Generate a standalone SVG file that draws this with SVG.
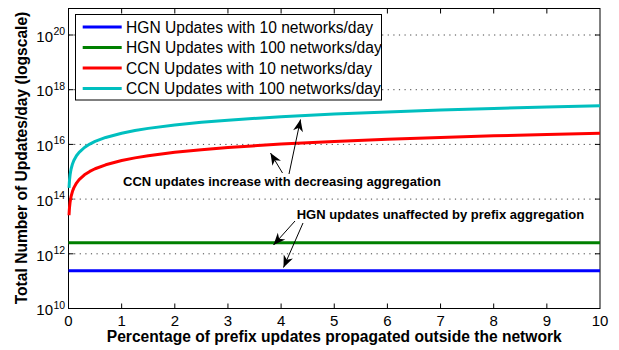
<svg xmlns="http://www.w3.org/2000/svg" width="619" height="350" viewBox="0 0 619 350">
<style>
text{font-family:"Liberation Sans",Arial,sans-serif;fill:#000}
.tick{font-size:15px}
.sup{font-size:10.5px}
.lab{font-size:15.6px;font-weight:bold}
.leg{font-size:15.6px}
.ann{font-size:13px;font-weight:bold}
.grid{stroke:#444;stroke-width:1;stroke-dasharray:1.2 4.4;fill:none}
.tk{stroke:#000;stroke-width:1;fill:none}
.crv{fill:none;stroke-width:3;stroke-linejoin:round;stroke-linecap:butt}
.arr{stroke:#000;stroke-width:1;fill:none;marker-end:url(#ah)}
</style>
<defs>
<marker id="ah" markerUnits="userSpaceOnUse" markerWidth="16" markerHeight="14" viewBox="-13 -7 14 14" refX="0" refY="0" orient="auto">
<path d="M0,0 L-12,-5 L-8.5,0 L-12,5 Z" fill="#000"/>
</marker>
</defs>
<rect width="619" height="350" fill="#fff"/>
<g id="grid">
<line class="grid" x1="68.5" y1="253.8" x2="600" y2="253.8"/>
<line class="grid" x1="68.5" y1="199.1" x2="600" y2="199.1"/>
<line class="grid" x1="68.5" y1="144.4" x2="600" y2="144.4"/>
<line class="grid" x1="68.5" y1="89.7" x2="600" y2="89.7"/>
<line class="grid" x1="68.5" y1="35" x2="600" y2="35"/>
</g>
<g id="axes">
<rect x="68.5" y="8.5" width="531.5" height="300" fill="none" stroke="#000" stroke-width="1"/>
<path class="tk" d="M121.65,308.5v-5M174.8,308.5v-5M227.95,308.5v-5M281.1,308.5v-5M334.25,308.5v-5M387.4,308.5v-5M440.55,308.5v-5M493.7,308.5v-5M546.85,308.5v-5
M121.65,8.5v5M174.8,8.5v5M227.95,8.5v5M281.1,8.5v5M334.25,8.5v5M387.4,8.5v5M440.55,8.5v5M493.7,8.5v5M546.85,8.5v5
M68.5,253.8h5M68.5,199.1h5M68.5,144.4h5M68.5,89.7h5M68.5,35h5
M600,253.8h-5M600,199.1h-5M600,144.4h-5M600,89.7h-5M600,35h-5"/>
<g class="tick" text-anchor="middle">
<text class="tick" x="68.5" y="326">0</text>
<text class="tick" x="121.65" y="326">1</text>
<text class="tick" x="174.8" y="326">2</text>
<text class="tick" x="227.95" y="326">3</text>
<text class="tick" x="281.1" y="326">4</text>
<text class="tick" x="334.25" y="326">5</text>
<text class="tick" x="387.4" y="326">6</text>
<text class="tick" x="440.55" y="326">7</text>
<text class="tick" x="493.7" y="326">8</text>
<text class="tick" x="546.85" y="326">9</text>
<text class="tick" x="600" y="326">10</text>
</g>
<g text-anchor="end">
<text class="tick" x="53" y="315.2">10</text>
<text class="tick" x="53" y="260.5">10</text>
<text class="tick" x="53" y="205.8">10</text>
<text class="tick" x="53" y="151.1">10</text>
<text class="tick" x="53" y="96.4">10</text>
<text class="tick" x="53" y="41.7">10</text>
</g>
<g>
<text class="sup" x="53.5" y="308.5">10</text>
<text class="sup" x="53.5" y="253.8">12</text>
<text class="sup" x="53.5" y="199.1">14</text>
<text class="sup" x="53.5" y="144.4">16</text>
<text class="sup" x="53.5" y="89.7">18</text>
<text class="sup" x="53.5" y="35">20</text>
</g>
<text class="lab" x="334.25" y="342" text-anchor="middle">Percentage of prefix updates propagated outside the network</text>
<text class="lab" transform="translate(27,158) rotate(-90)" text-anchor="middle">Total Number of Updates/day (logscale)</text>
</g>
<g id="curves">
<line id="hgn10" class="crv" stroke="#0000ff" x1="68.5" y1="270.7" x2="600" y2="270.7"/>
<line id="hgn100" class="crv" stroke="#008000" x1="68.5" y1="242.7" x2="600" y2="242.7"/>
<polyline id="ccn10" class="crv" stroke="#ff0000" points="69.03,215.24 69.30,210.42 69.56,207.01 70.09,202.19 70.63,198.77 71.16,196.12 72.49,191.31 73.82,187.89 76.47,183.07 79.13,179.66 84.45,174.84 89.76,171.42 95.08,168.77 105.71,164.78 121.65,160.54 134.94,157.89 148.23,155.72 174.8,152.31 201.38,149.66 227.95,147.49 281.1,144.07 334.25,141.42 387.4,139.26 440.55,137.43 493.7,135.84 546.85,134.44 600,133.19"/>
<polyline id="ccn100" class="crv" stroke="#00bfbf" points="69.03,187.89 69.30,183.07 69.56,179.66 70.09,174.84 70.63,171.42 71.16,168.77 72.49,163.96 73.82,160.54 76.47,155.72 79.13,152.31 84.45,147.49 89.76,144.07 95.08,141.42 105.71,137.43 121.65,133.19 134.94,130.54 148.23,128.37 174.8,124.96 201.38,122.31 227.95,120.14 281.1,116.72 334.25,114.07 387.4,111.91 440.55,110.08 493.7,108.49 546.85,107.09 600,105.84"/>
</g>
<g id="legend">
<rect x="75.5" y="14.5" width="306" height="85.5" fill="#fff" stroke="#000" stroke-width="1"/>
<line class="crv" stroke="#0000ff" x1="82.7" y1="27" x2="121.7" y2="27"/>
<line class="crv" stroke="#008000" x1="82.7" y1="47.5" x2="121.7" y2="47.5"/>
<line class="crv" stroke="#ff0000" x1="82.7" y1="68" x2="121.7" y2="68"/>
<line class="crv" stroke="#00bfbf" x1="82.7" y1="88.5" x2="121.7" y2="88.5"/>
<text class="leg" x="126" y="32.7">HGN Updates with 10 networks/day</text>
<text class="leg" x="126" y="53.2">HGN Updates with 100 networks/day</text>
<text class="leg" x="126" y="73.7">CCN Updates with 10 networks/day</text>
<text class="leg" x="126" y="94.2">CCN Updates with 100 networks/day</text>
</g>
<g id="annotations">
<text class="ann" x="123" y="186">CCN updates increase with decreasing aggregation</text>
<text class="ann" x="296.7" y="218.5">HGN updates unaffected by prefix aggregation</text>
<g id="connectors">
<line class="arr" x1="289" y1="174" x2="300.5" y2="119.5"/>
<line class="arr" x1="282.5" y1="173" x2="270.5" y2="153"/>
<line class="arr" x1="295" y1="221" x2="273.5" y2="245"/>
<line class="arr" x1="303" y1="223" x2="283.5" y2="267.5"/>
</g>
</g>
</svg>
